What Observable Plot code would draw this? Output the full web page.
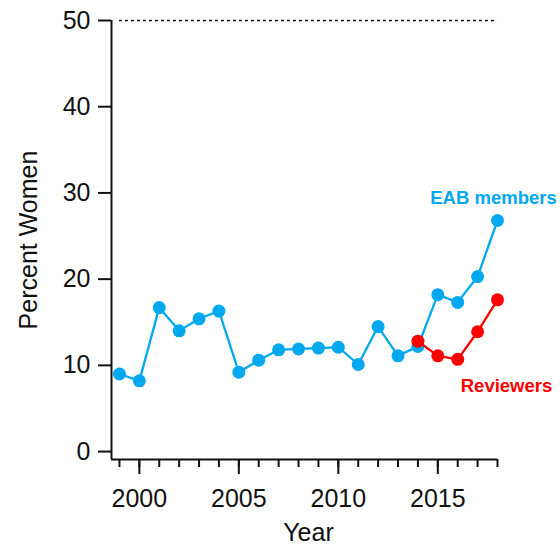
<!DOCTYPE html>
<html><head><meta charset="utf-8">
<script src="https://cdn.jsdelivr.net/npm/d3@7"></script>
<script src="https://cdn.jsdelivr.net/npm/@observablehq/plot@0.6"></script>
<style>body{margin:0;background:#fff} svg{display:block}</style>
</head><body><div id="chart"></div>
<script>
const years = [1999,2000,2001,2002,2003,2004,2005,2006,2007,2008,2009,2010,2011,2012,2013,2014,2015,2016,2017,2018];
const eabMembers = [9.0,8.2,16.7,14.0,15.4,16.3,9.2,10.6,11.8,11.9,12.0,12.1,10.1,14.5,11.1,12.2,18.2,17.3,20.3,26.8];
const reviewerYears = [2014,2015,2016,2017,2018];
const reviewers = [12.8,11.1,10.7,13.9,17.6];
const yTicks = [0,10,20,30,40,50];
const xMajorTicks = [2000,2005,2010,2015];
const xMinorTicks = years;
const parityLevel = 50;
const xDomain = [1998.6, 2018];
const yDomain = [-0.92, 50];

const eab = years.map((year,i)=>({year, value: eabMembers[i]}));
const rev = reviewerYears.map((year,i)=>({year, value: reviewers[i]}));
const BLUE = "#00a8f0", RED = "#ff0000", INK = "#111";
const font = "'Liberation Sans', Arial, Helvetica, sans-serif";

const chart = Plot.plot({
  width: 560, height: 546,
  marginLeft: 111, marginRight: 63, marginTop: 20, marginBottom: 87,
  style: {fontFamily: font, background: "#fff", color: INK},
  x: {domain: xDomain},
  y: {domain: yDomain},
  marks: [
    Plot.ruleY([parityLevel], {x1: years[0], x2: years[years.length-1], stroke: INK, strokeWidth: 1.5, strokeDasharray: "3,3"}),
    Plot.ruleX([xDomain[0]], {y1: yDomain[0], y2: yDomain[1], stroke: INK, strokeWidth: 2}),
    Plot.ruleY([yDomain[0]], {x1: xDomain[0], x2: xDomain[1], stroke: INK, strokeWidth: 2}),
    Plot.axisY({ticks: yTicks, tickSize: 13, tickPadding: 8, fontSize: 25, label: null, strokeWidth: 2}),
    Plot.axisX({ticks: xMinorTicks, tickSize: 8, tickFormat: () => "", label: null, strokeWidth: 2}),
    Plot.axisX({ticks: xMajorTicks, tickSize: 15, tickPadding: 15, tickFormat: d => String(d), fontSize: 25, label: null, strokeWidth: 2}),
    Plot.text(["Year"], {x: (years[0] + years[years.length-1]) / 2, frameAnchor: "bottom", textAnchor: "middle", lineAnchor: "middle", dy: 73, fontSize: 25, fill: INK}),
    Plot.text(["Percent Women"], {frameAnchor: "left", y: (yDomain[0] + yDomain[1]) / 2, textAnchor: "middle", lineAnchor: "middle", dx: -83, rotate: -90, fontSize: 25, fill: INK}),
    Plot.line(eab, {x: "year", y: "value", stroke: BLUE, strokeWidth: 2.3}),
    Plot.dot(eab, {x: "year", y: "value", r: 6.5, fill: BLUE}),
    Plot.line(rev, {x: "year", y: "value", stroke: RED, strokeWidth: 2.3}),
    Plot.dot(rev, {x: "year", y: "value", r: 6.5, fill: RED}),
    Plot.text([eab[eab.length-1]], {x: "year", y: "value", text: () => "EAB members", fill: BLUE, fontWeight: "bold", fontSize: 18.5, dx: -4, dy: -22}),
    Plot.text([rev[rev.length-1]], {x: "year", y: "value", text: () => "Reviewers", fill: RED, fontWeight: "bold", fontSize: 18.5, dx: 9, dy: 86})
  ]
});
document.getElementById("chart").append(chart);
</script>
</body></html>
